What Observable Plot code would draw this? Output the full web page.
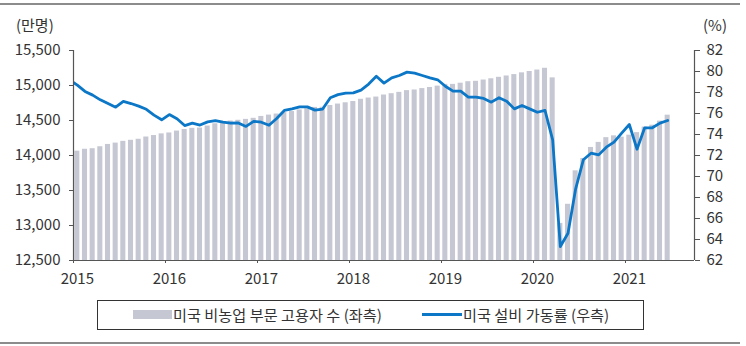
<!DOCTYPE html>
<html><head><meta charset="utf-8">
<script src="https://cdn.jsdelivr.net/npm/d3@7"></script>
<script src="https://cdn.jsdelivr.net/npm/@observablehq/plot@0.6"></script>
<style>
body{margin:0;background:#fff;font-family:"Noto Sans CJK KR","Noto Sans",sans-serif;color:#333}
#wrap{position:relative;width:746px;height:346px;overflow:hidden;background:#fff}
.hr{position:absolute;left:0;width:740px;height:1.5px;background:#8c8c8c}
.unit{position:absolute;font-size:15px;line-height:22px;color:#333}
#chart{position:absolute;left:0;top:0}
#legend{position:absolute;left:97px;top:300px;width:547px;height:30px;box-sizing:border-box;border:1px solid #333}
.sw{position:absolute}
.lt{position:absolute;font-size:15.2px;line-height:21px;top:304px;color:#333;white-space:nowrap}
</style></head><body>
<div id="wrap">
  <div class="hr" style="top:3px"></div>
  <div class="unit" style="left:16px;top:14px">(만명)</div>
  <div class="unit" style="left:703px;top:14px">(%)</div>
  <div id="chart"></div>
  <div id="legend"></div>
  <div class="sw" style="left:133px;top:310px;width:39px;height:9px;background:#c5c7d3"></div>
  <div class="lt" style="left:173px">미국 비농업 부문 고용자 수 (좌측)</div>
  <div class="sw" style="left:422px;top:312.5px;width:40px;height:3px;background:#0b77c6"></div>
  <div class="lt" style="left:463px">미국 설비 가동률 (우측)</div>
  <div class="hr" style="top:342px"></div>
</div>
<script>
// Monthly, Jan 2015 – Jun 2021 (만명)
const startYear = 2015;
const employment = [
  14062,14089,14097,14125,14158,14177,14202,14217,14232,14264,14285,14309,
  14322,14349,14372,14388,14392,14421,14453,14467,14492,14503,14516,14531,
  14558,14577,14592,14613,14628,14651,14669,14687,14689,14714,14735,14753,
  14771,14803,14821,14835,14864,14883,14902,14927,14936,14956,14972,14991,
  15016,15016,15033,15054,15060,15078,15096,15117,15136,15156,15181,15200,
  15221,15246,15109,13030,13303,13781,13957,14115,14187,14255,14281,14262,
  14290,14327,14406,14433,14491,14576
];
// Monthly capacity utilization (%), Dec 2014 – Jun 2021
const utilFirstMonth = -1; // Dec 2014
const utilization = [
  79.2,
  78.7,78.1,77.75,77.3,76.95,76.6,77.15,76.95,76.7,76.4,75.85,75.4,
  75.9,75.5,74.85,75.08,74.9,75.2,75.33,75.17,75.08,75.1,74.77,75.25,
  75.17,74.88,75.52,76.29,76.44,76.63,76.63,76.32,76.42,77.5,77.8,77.95,
  77.97,78.23,78.8,79.55,78.89,79.4,79.62,79.94,79.84,79.62,79.4,79.21,
  78.6,78.13,78.13,77.56,77.56,77.43,77.08,77.5,77.17,76.44,76.76,76.44,
  76.12,76.29,73.49,63.33,64.6,68.83,71.59,72.22,72.06,72.79,73.27,74.13,
  74.95,72.6,74.64,74.64,75.08,75.33
];
const years = [2015,2016,2017,2018,2019,2020,2021];
const leftTicks = [12500,13000,13500,14000,14500,15000,15500];
const rightTicks = [62,64,66,68,70,72,74,76,78,80,82];
const leftDomain = [12500,15500];
const rightDomain = [62,82];
const xEnd = 2015 + 81/12;

const k = (leftDomain[1]-leftDomain[0])/(rightDomain[1]-rightDomain[0]);
const toLeft = v => leftDomain[0] + (v - rightDomain[0]) * k;
const fromLeft = v => rightDomain[0] + (v - leftDomain[0]) / k;

const axisColor = "#555";
const textColor = "#333";
const fs = 15;

const chart = Plot.plot({
  width: 746, height: 290,
  marginLeft: 73, marginRight: 52, marginTop: 50, marginBottom: 30,
  style: {fontFamily: '"Noto Sans CJK KR","Noto Sans",sans-serif', fontSize: fs + "px", color: textColor, background: "transparent"},
  x: {type: "linear", domain: [startYear, xEnd]},
  y: {domain: leftDomain},
  marks: [
    Plot.rectY(employment, {
      x1: (d, i) => startYear + i/12, x2: (d, i) => startYear + (i+1)/12,
      y1: leftDomain[0], y2: d => d,
      fill: "#c5c7d3", insetLeft: 1.3, insetRight: 1.3
    }),
    Plot.lineY(utilization, {
      x: (d, i) => startYear + (i + utilFirstMonth + 0.5)/12,
      y: d => toLeft(d),
      stroke: "#0b77c6", strokeWidth: 2.8, strokeLinejoin: "round", clip: true
    }),
    Plot.ruleX([startYear, xEnd], {stroke: axisColor, strokeWidth: 1.2}),
    Plot.ruleY([leftDomain[0]], {stroke: axisColor, strokeWidth: 1.2}),
    Plot.axisY(leftTicks, {anchor: "left", tickSize: 4, tickPadding: 9, stroke: axisColor,
      tickFormat: d3.format(","), fill: textColor, fontSize: fs}),
    Plot.axisY(rightTicks.map(toLeft), {anchor: "right", tickSize: 5, tickPadding: 7, stroke: axisColor,
      tickFormat: d => String(Math.round(fromLeft(d))), fill: textColor, fontSize: fs}),
    Plot.axisX(years, {anchor: "bottom", tickSize: 3, tickFormat: () => "", stroke: axisColor}),
    Plot.axisX(years.map(y => y + 1/24), {anchor: "bottom", tickSize: 0, tickPadding: 13,
      tickFormat: d => String(Math.floor(d)), fill: textColor, fontSize: fs})
  ]
});
document.getElementById("chart").appendChild(chart);
</script>
</body></html>
